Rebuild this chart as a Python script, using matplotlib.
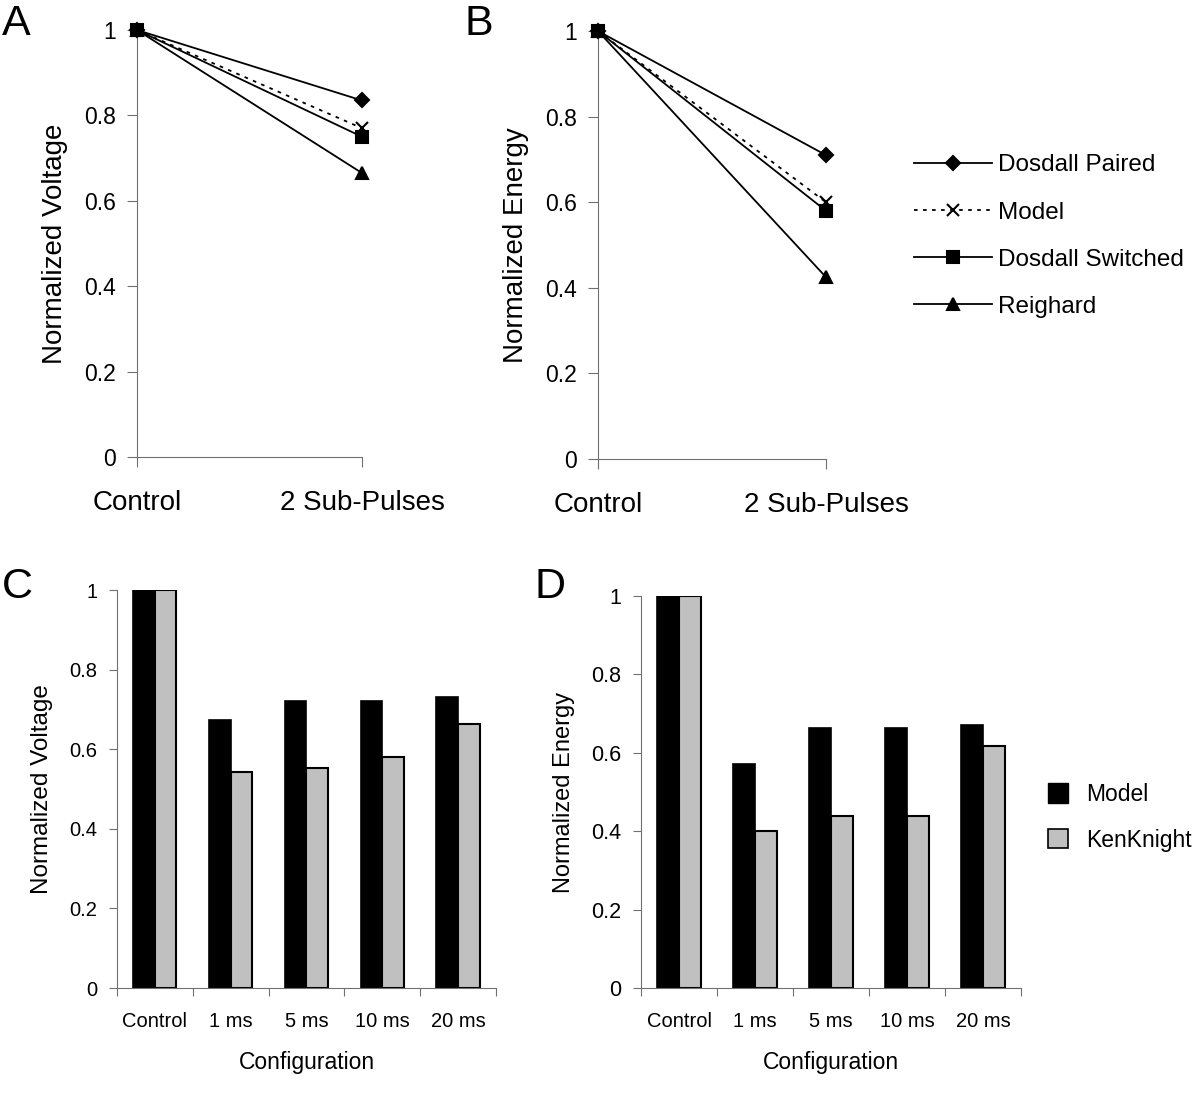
import matplotlib
matplotlib.use('Agg')
import matplotlib.pyplot as plt
import numpy as np
from matplotlib.lines import Line2D
from matplotlib.patches import Patch

plt.rcParams['font.family'] = ['Liberation Sans', 'DejaVu Sans']

# data for line panels (A, B)
line_cats = ['Control', '2 Sub-Pulses']
series_names = ['Dosdall Paired', 'Model', 'Dosdall Switched', 'Reighard']
voltage_vals = [[1, 0.835], [1, 0.77], [1, 0.75], [1, 0.665]]
energy_vals = [[1, 0.71], [1, 0.60], [1, 0.58], [1, 0.425]]

# data for bar panels (C, D)
bar_cats = ['Control', '1 ms', '5 ms', '10 ms', '20 ms']
bar_names = ['Model', 'KenKnight']
volt_model = [1, 0.673, 0.72, 0.72, 0.73]
volt_ken = [1, 0.543, 0.553, 0.58, 0.663]
energy_model = [1, 0.571, 0.662, 0.662, 0.672]
energy_ken = [1, 0.40, 0.44, 0.44, 0.618]

axis_col = '#707070'
markers = ['D', 'x', 's', '^']
styles = ['-', (0, (2, 3)), '-', '-']
msizes = [7, 9, 8, 9]

fig = plt.figure(figsize=(12, 11.08), dpi=100)


def line_panel(rect, vals, ylabel):
    ax = fig.add_axes(rect)
    x = np.arange(len(line_cats))
    for v, m, ls, ms in zip(vals, markers, styles, msizes):
        ax.plot(x, v, color='black', linestyle=ls, marker=m, markersize=ms,
                lw=1.3, mew=1.5, clip_on=False, zorder=3)
    ax.set_xlim(0, 1)
    ax.set_ylim(0, 1)
    ax.set_yticks([0, 0.2, 0.4, 0.6, 0.8, 1])
    ax.set_yticklabels(['0', '0.2', '0.4', '0.6', '0.8', '1'])
    ax.set_xticks(x)
    ax.set_xticklabels(line_cats)
    ax.spines['top'].set_visible(False)
    ax.spines['right'].set_visible(False)
    for s in ['left', 'bottom']:
        ax.spines[s].set_color(axis_col)
    ax.tick_params(axis='y', direction='out', length=7, color=axis_col,
                   labelsize=16.5, pad=8)
    ax.tick_params(axis='x', direction='out', length=7, color=axis_col,
                   labelsize=20, pad=17)
    ax.set_ylabel(ylabel, fontsize=20, labelpad=12)
    return ax


def bar_panel(rect, model, ken, ylabel, ylsize, ticksize):
    ax = fig.add_axes(rect)
    x = np.arange(len(bar_cats))
    w = 0.285
    ax.bar(x - w / 2, model, w, color='black', edgecolor='black', lw=1.2)
    ax.bar(x + w / 2, ken, w, color='#c0c0c0', edgecolor='black', lw=1.5)
    ax.set_xlim(-0.5, len(bar_cats) - 0.5)
    ax.set_ylim(0, 1)
    ax.set_yticks([0, 0.2, 0.4, 0.6, 0.8, 1])
    ax.set_yticklabels(['0', '0.2', '0.4', '0.6', '0.8', '1'])
    ax.set_xticks(np.arange(len(bar_cats) + 1) - 0.5)
    ax.set_xticklabels([])
    ax.set_xticks(x, minor=True)
    ax.set_xticklabels(bar_cats, minor=True)
    ax.spines['top'].set_visible(False)
    ax.spines['right'].set_visible(False)
    for s in ['left', 'bottom']:
        ax.spines[s].set_color(axis_col)
    ax.tick_params(axis='y', direction='out', length=6, color=axis_col,
                   labelsize=ticksize, pad=8)
    ax.tick_params(axis='x', which='major', direction='out', length=6,
                   color=axis_col)
    ax.tick_params(axis='x', which='minor', length=0, labelsize=14.5, pad=17)
    ax.set_xlabel('Configuration', fontsize=16.5, labelpad=15)
    ax.set_ylabel(ylabel, fontsize=ylsize, labelpad=12)
    return ax


ax_a = line_panel([0.1142, 0.5875, 0.1875, 0.3854], voltage_vals, 'Normalized Voltage')
ax_b = line_panel([0.4983, 0.5857, 0.19, 0.3863], energy_vals, 'Normalized Energy')
ax_c = bar_panel([0.0975, 0.1083, 0.3158, 0.3592], volt_model, volt_ken,
                 'Normalized Voltage', 17.5, 14.5)
ax_d = bar_panel([0.5342, 0.1083, 0.3167, 0.3538], energy_model, energy_ken,
                 'Normalized Energy', 17, 15.5)

# legend for line panels
handles = [Line2D([0], [0], color='black', linestyle=ls, marker=m,
                  markersize=ms, lw=1.3, mew=1.5)
           for m, ls, ms in zip(markers, styles, msizes)]
fig.legend(handles, series_names, loc='upper left',
           bbox_to_anchor=(0.7617, 0.8606), frameon=False, fontsize=17.5,
           handlelength=3.2, labelspacing=1.03, handletextpad=0.25,
           borderaxespad=0, borderpad=0)

# legend for bar panels
bhandles = [Patch(facecolor='black', edgecolor='black'),
            Patch(facecolor='#c0c0c0', edgecolor='black', lw=1.2)]
fig.legend(bhandles, bar_names, loc='upper left',
           bbox_to_anchor=(0.873, 0.2934), frameon=False, fontsize=16.5,
           handlelength=0.9, handleheight=0.9, labelspacing=1.0,
           handletextpad=0.8, borderaxespad=0, borderpad=0)

# panel letters
for lab, px, py in [('A', 2, 35), ('B', 465, 35), ('C', 2, 598), ('D', 535, 598)]:
    fig.text(px / 1200, 1 - py / 1108, lab, fontsize=31, ha='left', va='baseline')

fig.savefig('out.png', dpi=100)
